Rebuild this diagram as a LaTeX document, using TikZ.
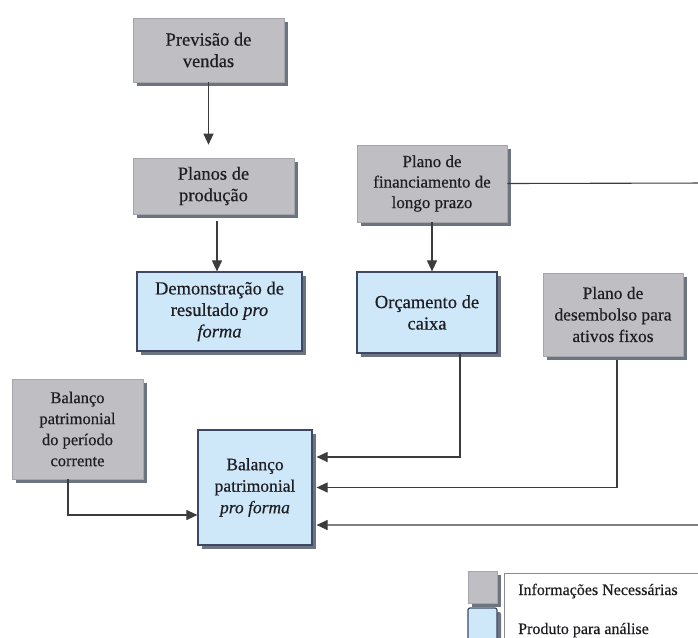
\documentclass[tikz,border=0pt]{standalone}
\usepackage{fontspec}
\setmainfont[FakeBold=0.45]{Liberation Serif}
\usetikzlibrary{shadows,arrows.meta}
\definecolor{grayfill}{RGB}{190,190,195}
\definecolor{grayedge}{RGB}{165,165,172}
\definecolor{bluefill}{RGB}{206,232,250}
\definecolor{blueedge}{RGB}{62,72,100}
\definecolor{shadowc}{RGB}{108,116,128}
\definecolor{linec}{RGB}{60,60,62}
\definecolor{framec}{RGB}{140,140,144}
\definecolor{textc}{RGB}{30,30,34}
\begin{document}
\begin{tikzpicture}[x=1pt,y=-1pt,
  shad/.style={drop shadow={shadow xshift=4pt,shadow yshift=-4pt,fill=shadowc,opacity=1}},
  info/.style={shad,fill=grayfill,draw=grayedge,line width=0.6pt,align=center,inner sep=0pt,
    text=textc,font=\fontsize{18.5}{21.5}\selectfont},
  prod/.style={shad,fill=bluefill,draw=blueedge,line width=1.2pt,align=center,inner sep=0pt,
    text=textc,font=\fontsize{18.5}{21.5}\selectfont},
  conn/.style={draw=linec,line width=1.1pt,-{Triangle[length=11pt,width=10pt]}},
  legtext/.style={anchor=base west,inner sep=0pt,text=textc,font=\fontsize{16}{19}\selectfont}
]
\useasboundingbox (0,0) rectangle (698,637);
\clip (0,0) rectangle (698,637);
\fill[white] (0,0) rectangle (698,637);

% boxes
\node[info,minimum width=151pt,minimum height=64pt] (B1) at (208.5,50) {Previsão de\\vendas};
\node[info,minimum width=161pt,minimum height=56pt] (B2) at (213.5,186) {Planos de\\produção};
\node[prod,minimum width=165pt,minimum height=79pt] (B3) at (219.5,311.5) {Demonstração de\\resultado \textit{pro}\\\textit{forma}};
\node[info,minimum width=150pt,minimum height=77pt,font=\fontsize{17}{20.5}\selectfont] (B4) at (432,183.5) {Plano de\\financiamento de\\longo prazo};
\node[prod,minimum width=140pt,minimum height=81pt] (B5) at (427,312.5) {Orçamento de\\caixa};
\node[info,minimum width=140pt,minimum height=83pt,font=\fontsize{17.5}{21.5}\selectfont] (B6) at (613,314.5) {Plano de\\desembolso para\\ativos fixos};
\node[info,minimum width=131pt,minimum height=100pt,font=\fontsize{16.5}{21}\selectfont] (B7) at (77.5,429) {Balanço\\patrimonial\\do período\\corrente};
\node[prod,minimum width=114pt,minimum height=115pt,font=\fontsize{17.5}{21.5}\selectfont] (B8) at (255,487.5) {Balanço\\patrimonial\\\textit{pro forma}};

% connectors
\draw[conn,shorten >=13pt] (B1.south) -- (B1.south |- B2.north);
\draw[conn,shorten <=7pt] ([xshift=3.5pt]B2.south) -- ([xshift=3.5pt]B2.south |- B3.north);
\draw[conn] (B4.south) -- (B4.south |- B5.north);
\coordinate (k5) at ([xshift=33pt]B5.south);
\coordinate (k6) at ([xshift=4pt,yshift=-4pt]B6.south);
\coordinate (k7) at ([xshift=-9.5pt]B7.south);
\coordinate (far) at (712,183);
\draw[conn] (k5) |- ([xshift=4pt,yshift=30.5pt]B8.east);
\draw[conn] (k6) |- ([xshift=4pt]B8.east);
\draw[conn] (B4.east) -- (far) |- ([xshift=4pt,yshift=-37.5pt]B8.east);
\draw[conn] (k7) |- ([yshift=-27.5pt]B8.west);

% legend
\node[shad,fill=grayfill,draw=grayedge,line width=0.6pt,minimum width=29pt,minimum height=32pt,inner sep=0pt] (L1) at (482.5,587) {};
\node[shad,fill=bluefill,draw=blueedge,line width=1.2pt,minimum width=29pt,minimum height=32pt,inner sep=0pt,rounded corners=2pt] (L2) at (482.5,624) {};
\coordinate (fa) at (504,645);
\coordinate (fb) at (504,573);
\coordinate (fc) at (710,573);
\draw[framec,line width=0.8pt] (fa) -- (fb) -- (fc);
\node[legtext] (T1) at (518,595) {Informações Necessárias};
\node[legtext] (T2) at (518,634) {Produto para análise};
\end{tikzpicture}
\end{document}
